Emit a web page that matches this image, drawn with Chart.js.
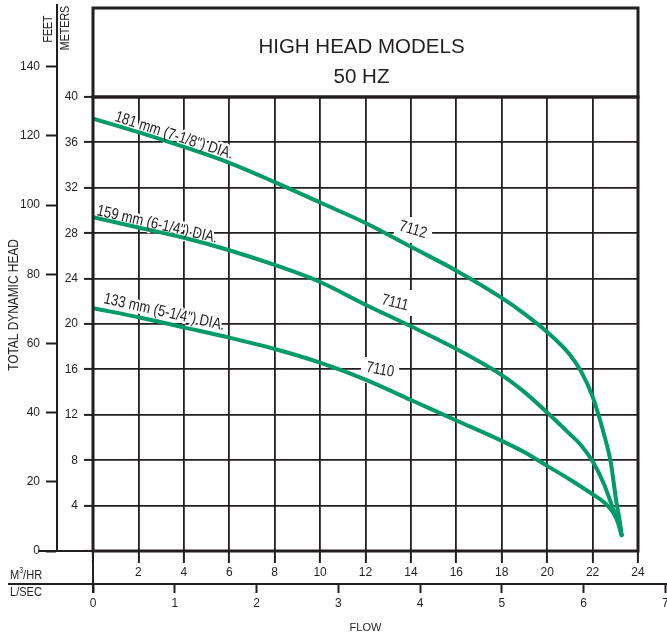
<!DOCTYPE html>
<html>
<head>
<meta charset="utf-8">
<script src="https://cdn.jsdelivr.net/npm/chart.js@4.4.1/dist/chart.umd.min.js"></script>
<style>
  html, body { margin: 0; padding: 0; background: #fff; }
  #wrap { width: 667px; height: 635px; position: relative; }
</style>
</head>
<body>
<div id="wrap"><canvas id="myChart"></canvas></div>
<script>
// flow in m3/hr, head in meters
const flow7112 = [0, 2, 4, 6, 8, 10, 12, 14, 16, 18, 19, 20, 21, 21.5, 22, 22.5, 22.8, 23.05, 23.2, 23.28];
const head7112 = [38.1, 36.9, 35.6, 34.2, 32.5, 30.7, 28.9, 26.8, 24.7, 22.3, 20.9, 19.3, 17.3, 15.8, 13.6, 10.3, 7.8, 4.3, 2.6, 1.4];

const flow7111 = [0, 2, 4, 6, 8, 10, 12, 14, 16, 18, 19, 20, 21, 21.5, 22, 22.5, 22.85, 23.1, 23.28];
const head7111 = [29.4, 28.5, 27.6, 26.5, 25.2, 23.7, 21.7, 19.8, 17.8, 15.5, 14.0, 12.2, 10.3, 9.3, 7.9, 5.9, 4.0, 2.6, 1.4];

const flow7110 = [0, 2, 4, 6, 8, 10, 12, 14, 16, 18, 19, 20, 21, 22, 22.5, 22.9, 23.15, 23.28];
const head7110 = [21.4, 20.6, 19.7, 18.8, 17.8, 16.6, 15.1, 13.3, 11.5, 9.7, 8.7, 7.5, 6.3, 5.0, 4.3, 3.4, 2.4, 1.4];

const meterTicks = [0, 4, 8, 12, 16, 20, 24, 28, 32, 36, 40];
const feetTicks = [0, 20, 40, 60, 80, 100, 120, 140];
const m3hrTicks = [0, 2, 4, 6, 8, 10, 12, 14, 16, 18, 20, 22, 24];
const lsecTicks = [0, 1, 2, 3, 4, 5, 6, 7];

const INK = '#231f20';
const GREEN = '#009b67';
const FONT = "'Liberation Sans', Arial, sans-serif";
const SQUEEZE = 0.82;   // no condensed face installed, squeeze text drawn by hand

const metersMax = 47.84;          // top of chart area, title box sits above 40 m
const M_PER_FT = 0.3048;
const M3HR_PER_LSEC = 3.6;

function toPoints(xs, ys) {
    return xs.map((x, i) => ({ x: x, y: ys[i] }));
}

function lineSet(label, xs, ys) {
    return {
        label: label,
        data: toPoints(xs, ys),
        borderColor: GREEN,
        borderWidth: 4,
        borderCapStyle: 'round',
        pointRadius: 0,
        fill: false,
        cubicInterpolationMode: 'monotone',
        xAxisID: 'x',
        yAxisID: 'y'
    };
}

function fixed(list) {
    return function (scale) {
        scale.ticks = list.map(v => ({ value: v }));
    };
}

// draw text rotated by deg and squeezed sideways
function narrowText(ctx, txt, x, y, deg, align, baseline, mode) {
    ctx.save();
    ctx.translate(x, y);
    ctx.rotate(deg * Math.PI / 180);
    ctx.scale(SQUEEZE, 1);
    ctx.textAlign = align;
    ctx.textBaseline = baseline;
    if (mode === 'halo') {
        ctx.strokeStyle = '#fff';
        ctx.lineWidth = 5;
        ctx.lineJoin = 'round';
        ctx.strokeText(txt, 0, 0);
    } else {
        ctx.fillStyle = INK;
        ctx.fillText(txt, 0, 0);
    }
    ctx.restore();
}

function diaLabels(chart, mode) {
    const { ctx, scales } = chart;
    const px = v => scales.x.getPixelForValue(v);
    const py = v => scales.y.getPixelForValue(v);
    ctx.font = '16px ' + FONT;
    narrowText(ctx, '181 mm (7-1/8") DIA.', px(0.92), py(37.9), 18, 'left', 'alphabetic', mode);
    narrowText(ctx, '159 mm (6-1/4") DIA.', px(0.13), py(29.6), 13, 'left', 'alphabetic', mode);
    narrowText(ctx, '133 mm (5-1/4") DIA.', px(0.44), py(21.85), 12.7, 'left', 'alphabetic', mode);
}

function modelLabels(chart, mode) {
    const { ctx, scales } = chart;
    const px = v => scales.x.getPixelForValue(v);
    const py = v => scales.y.getPixelForValue(v);
    const items = [
        ['7112', px(14.09), py(28.28), 16],
        ['7111', px(13.3), py(21.85), 14],
        ['7110', px(12.64), py(15.95), 10]
    ];
    ctx.font = '16px ' + FONT;
    items.forEach(function (it) {
        if (mode === 'halo') {
            const w = ctx.measureText(it[0]).width * SQUEEZE + 10;
            ctx.fillStyle = '#fff';
            ctx.fillRect(it[1] - w / 2, it[2] - 13, w, 26);
        } else {
            narrowText(ctx, it[0], it[1], it[2], it[3], 'center', 'middle', 'fill');
        }
    });
}

const decor = {
    id: 'decor',
    beforeDatasetsDraw(chart) {
        const { ctx, chartArea: a, scales } = chart;
        const y40 = scales.y.getPixelForValue(40);
        ctx.save();
        ctx.fillStyle = '#fff';
        ctx.fillRect(a.left, a.top - 2, a.right - a.left, y40 - a.top + 1);
        diaLabels(chart, 'halo');
        modelLabels(chart, 'halo');
        ctx.restore();
    },
    afterDatasetsDraw(chart) {
        const { ctx, chartArea: a, scales } = chart;
        const y40 = scales.y.getPixelForValue(40);
        ctx.save();
        ctx.strokeStyle = INK;
        ctx.lineWidth = 3;
        ctx.strokeRect(a.left, a.top, a.right - a.left, y40 - a.top);
        ctx.strokeRect(a.left, y40, a.right - a.left, a.bottom - y40);

        ctx.fillStyle = INK;
        ctx.textAlign = 'center';
        ctx.textBaseline = 'alphabetic';
        ctx.font = '20.5px ' + FONT;
        const cx = (a.left + a.right) / 2 - 4;
        ctx.fillText('HIGH HEAD MODELS', cx, 53);
        ctx.fillText('50 HZ', cx, 83);

        diaLabels(chart, 'fill');
        modelLabels(chart, 'fill');
        ctx.restore();
    },
    afterDraw(chart) {
        const { ctx, chartArea: a, scales } = chart;
        const lineY = scales.x2.top;
        ctx.save();
        ctx.strokeStyle = INK;
        ctx.lineWidth = 2;
        ctx.beginPath();
        ctx.moveTo(8, lineY);
        ctx.lineTo(chart.width, lineY);
        ctx.moveTo(38, a.bottom);
        ctx.lineTo(a.left, a.bottom);
        ctx.moveTo(a.left, a.bottom);
        ctx.lineTo(a.left, lineY + 9);
        ctx.moveTo(scales.y2.right, a.top);
        ctx.lineTo(scales.y2.right, a.top - 4);
        ctx.stroke();

        ctx.font = '13.5px ' + FONT;
        narrowText(ctx, 'M', 10, 579, 0, 'left', 'alphabetic', 'fill');
        const mw = ctx.measureText('M').width * SQUEEZE;
        ctx.font = '8.5px ' + FONT;
        narrowText(ctx, '3', 10 + mw, 573, 0, 'left', 'alphabetic', 'fill');
        const sw = ctx.measureText('3').width * SQUEEZE;
        ctx.font = '13.5px ' + FONT;
        narrowText(ctx, '/HR', 10 + mw + sw, 579, 0, 'left', 'alphabetic', 'fill');
        narrowText(ctx, 'L/SEC', 10, 596, 0, 'left', 'alphabetic', 'fill');

        ctx.font = '13px ' + FONT;
        narrowText(ctx, 'FEET', 48, 29, -90, 'center', 'middle', 'fill');
        narrowText(ctx, 'METERS', 65, 28, -90, 'center', 'middle', 'fill');
        ctx.font = '14.5px ' + FONT;
        narrowText(ctx, 'TOTAL DYNAMIC HEAD', 14, 305, -90, 'center', 'middle', 'fill');
        ctx.restore();
    }
};

const tickFont = { family: FONT, size: 12 };

const config = {
    type: 'line',
    data: {
        datasets: [
            lineSet('7112', flow7112, head7112),
            lineSet('7111', flow7111, head7111),
            lineSet('7110', flow7110, head7110)
        ]
    },
    options: {
        responsive: true,
        maintainAspectRatio: false,
        animation: false,
        layout: { padding: { top: 8, right: 29, left: 0, bottom: 0 } },
        plugins: {
            legend: { display: false },
            tooltip: { enabled: false }
        },
        scales: {
            x: {
                type: 'linear',
                position: 'bottom',
                weight: 0,
                min: 0,
                max: 24,
                afterBuildTicks: fixed(m3hrTicks),
                afterFit(s) { s.height = 33; s.paddingLeft = 0; s.paddingRight = 0; },
                ticks: {
                    autoSkip: false, maxRotation: 0, padding: 2,
                    color: INK, font: tickFont,
                    callback: v => (v === 0 ? '' : v)
                },
                grid: { color: INK, lineWidth: 1.8, tickLength: 12, tickColor: INK, tickWidth: 2 },
                border: { display: false }
            },
            x2: {
                type: 'linear',
                position: 'bottom',
                weight: 1,
                min: 0,
                max: 24 / M3HR_PER_LSEC,
                afterBuildTicks: fixed(lsecTicks),
                afterFit(s) { s.height = 51; s.paddingLeft = 0; s.paddingRight = 0; },
                ticks: {
                    autoSkip: false, maxRotation: 0, padding: 3,
                    color: INK, font: tickFont
                },
                grid: { drawOnChartArea: false, tickLength: 9, tickColor: INK, tickWidth: 2 },
                border: { display: false },
                title: {
                    display: true, text: 'FLOW', color: INK,
                    font: { family: FONT, size: 11 },
                    padding: { top: 6, bottom: 0 }
                }
            },
            y: {
                type: 'linear',
                position: 'left',
                weight: 0,
                min: 0,
                max: metersMax,
                afterBuildTicks: fixed(meterTicks),
                afterFit(s) { s.width = 36; s.paddingTop = 0; s.paddingBottom = 0; },
                ticks: {
                    padding: 6, color: INK, font: tickFont,
                    callback: v => (v === 0 ? '' : v)
                },
                grid: { color: INK, lineWidth: 1.8, tickLength: 9, tickColor: INK, tickWidth: 2 },
                border: { display: false }
            },
            y2: {
                type: 'linear',
                position: 'left',
                weight: 1,
                min: 0,
                max: metersMax / M_PER_FT,
                afterBuildTicks: fixed(feetTicks),
                afterFit(s) { s.width = 57; s.paddingTop = 0; s.paddingBottom = 0; },
                ticks: { padding: 6, color: INK, font: tickFont },
                grid: { drawOnChartArea: false, tickLength: 11, tickColor: INK, tickWidth: 2 },
                border: { display: true, color: INK, width: 2 }
            }
        }
    },
    plugins: [decor]
};

new Chart(document.getElementById('myChart'), config);
</script>
</body>
</html>
